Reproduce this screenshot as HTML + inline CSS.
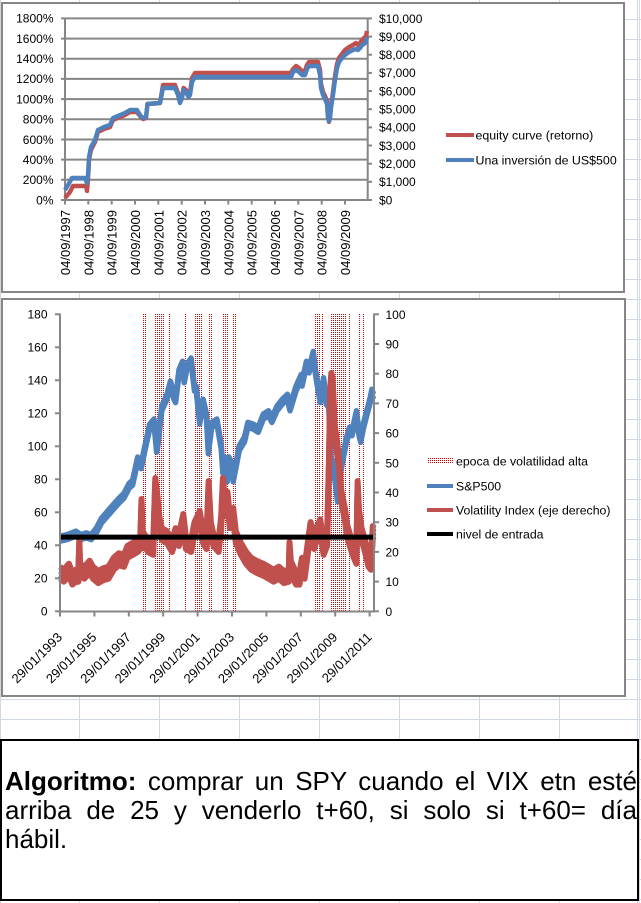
<!DOCTYPE html>
<html>
<head>
<meta charset="utf-8">
<style>
  html, body { margin:0; padding:0; background:#fff; }
  body { width:641px; height:903px; position:relative; overflow:hidden; font-family:"Liberation Sans", Arial, sans-serif; }
  svg { position:absolute; left:0; top:0; }
  .box { position:absolute; left:0; top:739px; width:639px; height:162px; box-sizing:border-box; border:2px solid #000; background:#fff; padding-top:26px; }
  .ln { margin-left:3px; width:632px; height:29px; line-height:29px; font-size:26px; color:#000; white-space:nowrap; font-family:"Liberation Sans", Arial, sans-serif; }
  .j { text-align:justify; text-align-last:justify; white-space:normal; }
</style>
</head>
<body>
<svg width="641" height="903" viewBox="0 0 641 903" xmlns="http://www.w3.org/2000/svg" font-family="Liberation Sans, Arial, sans-serif">
  <defs>
    <pattern id="grid" patternUnits="userSpaceOnUse" x="0" y="0" width="80" height="20">
      <path d="M79.5,0 V20 M0,19.5 H80" stroke="#d0d7e5" stroke-width="1" fill="none"/>
    </pattern>
    <pattern id="dots" patternUnits="userSpaceOnUse" x="0" y="0" width="2" height="2">
      <rect x="0" y="0" width="1" height="1" fill="#e00000"/>
    </pattern>
    <polyline id="spx" fill="none" stroke-linejoin="round"
      points="60,538.7 67.2,537.1 75.8,533.7 81,537.1 86.1,535.4 91.3,537.1 96.4,530.4 101.6,520.5 110.2,510.6 118.8,500.8 123.9,495.8 129.1,485.9 132.6,482.6 137.7,459.5 141.2,466.1 144.6,449.6 149.7,426.5 154,421.5 156.6,449.6 157.5,446.3 161.8,408.3 167,396.8 170.4,383.6 173.9,396.8 175.6,400.1 179,372.1 182.5,363.8 184.2,380.3 186.8,367.1 191.1,360.5 194.5,388.6 196.2,388.6 199.7,421.5 203.1,401.8 206.5,416.6 208.3,451.3 211.7,424.9 216.9,421.5 221.2,446.3 222.9,471.1 224.6,459.5 227.2,479.3 228.9,459.5 230.6,462.8 233.2,479.3 235.8,466.1 239.3,447.9 244.4,439.7 247.9,424.9 253,426.5 258.2,429.8 263.3,416.6 268.5,413.3 271.9,419.9 277.1,408.3 282.2,401.8 287.4,396.8 290,408.3 296,388.6 301.2,377 302.1,383.6 306.4,363.8 309,370.4 313.3,353.9 315,368.8 317.6,385.2 320.2,400.1 323.6,380.3 326.2,401.8 328.8,405.1 330.2,446.3 331.4,466.1 333.1,462.8 334,471.1 336.6,490.9 337.5,499.1 340,472.7 342.6,459.5 346.1,441.3 349.5,429.8 352.1,433.1 356.4,413.3 359,433.1 360.7,439.7 363.3,426.5 366.7,413.3 370.2,400.1 371.9,391.8 373.6,396.8"/>
    <polyline id="vix" fill="none" stroke-linejoin="round"
      points="60,572.7 63.8,575.7 68.9,569.7 72.4,578.6 75.8,575.7 78.4,575.7 79.3,545 80.1,569.7 84.4,572.7 89.6,566.7 93,572.7 98.2,577.1 103.3,574.2 108.5,572.7 113.7,563.8 118.8,559.3 124,560.8 127.4,551.9 132.6,548.9 137.7,546 140.3,543 141.5,505 142.5,537.1 148.1,546 153.2,548.9 155.3,484 157.5,503 159.2,522.2 161.8,534.1 167,537.1 172.1,546 175.6,534.1 179,540 183.3,520 185.9,543 191.1,546 194.5,528.1 199.7,517 203.1,537.1 206.5,543 208.6,487 210.8,528.1 213.4,540 218.6,546 221.2,522.2 222.9,484 225.5,510.3 227.5,498 229.8,522.2 233.2,514 235.8,537.1 240.9,548.9 246.1,557.8 251.3,563.8 256.4,566.7 263.3,569.7 268.5,572.7 273.6,575.7 278.8,572.7 283.9,577.1 288.8,575.7 289.5,548 290.8,566.7 296,578.6 299.4,578.6 302,563.8 304.6,572.7 308.9,540 310.6,528.1 314.1,543 317.6,531.1 320.2,525.2 323.6,548.9 327.1,540 329,465 330.2,395 331.3,379 332.5,383 333.5,404 334.5,430 336,440 338,455 339.5,470 341,495 343,505 345,515 347,530 350.4,542 353.8,551.9 356.4,557.8 357.6,487 359,516.3 361.6,534.1 365,546 368.5,560.8 371,563.8 372.8,532 373.6,534.1"/>
  </defs>
  <rect x="0" y="0" width="641" height="903" fill="url(#grid)"/>
  <line x1="0.5" y1="0" x2="0.5" y2="903" stroke="#d0d7e5"/>
  <line x1="637.5" y1="0" x2="637.5" y2="903" stroke="#d0d7e5"/>

  <!-- ================= TOP CHART ================= -->
  <rect x="2" y="3" width="622" height="289" fill="#fff" stroke="#868686" stroke-width="2"/>
  <g stroke="#868686" stroke-width="2">
    <line x1="61" y1="18.4" x2="367.7" y2="18.4"/>
    <line x1="61" y1="38.6" x2="367.7" y2="38.6"/>
    <line x1="61" y1="58.7" x2="367.7" y2="58.7"/>
    <line x1="61" y1="78.9" x2="367.7" y2="78.9"/>
    <line x1="61" y1="99.1" x2="367.7" y2="99.1"/>
    <line x1="61" y1="119.3" x2="367.7" y2="119.3"/>
    <line x1="61" y1="139.5" x2="367.7" y2="139.5"/>
    <line x1="61" y1="159.6" x2="367.7" y2="159.6"/>
    <line x1="61" y1="179.8" x2="367.7" y2="179.8"/>
    <line x1="61" y1="200" x2="367.7" y2="200"/>
    <line x1="65" y1="18" x2="65" y2="200"/>
    <line x1="367.7" y1="18" x2="367.7" y2="201"/>
  </g>
  <g stroke="#868686" stroke-width="2">
    <line x1="367.7" y1="200" x2="372" y2="200"/>
    <line x1="367.7" y1="181.8" x2="372" y2="181.8"/>
    <line x1="367.7" y1="163.7" x2="372" y2="163.7"/>
    <line x1="367.7" y1="145.5" x2="372" y2="145.5"/>
    <line x1="367.7" y1="127.4" x2="372" y2="127.4"/>
    <line x1="367.7" y1="109.2" x2="372" y2="109.2"/>
    <line x1="367.7" y1="91" x2="372" y2="91"/>
    <line x1="367.7" y1="72.9" x2="372" y2="72.9"/>
    <line x1="367.7" y1="54.7" x2="372" y2="54.7"/>
    <line x1="367.7" y1="36.6" x2="372" y2="36.6"/>
    <line x1="367.7" y1="18.4" x2="372" y2="18.4"/>
  </g>
  <g stroke="#868686" stroke-width="2">
    <line x1="65" y1="200" x2="65" y2="204.5"/>
    <line x1="88.3" y1="200" x2="88.3" y2="204.5"/>
    <line x1="111.7" y1="200" x2="111.7" y2="204.5"/>
    <line x1="135" y1="200" x2="135" y2="204.5"/>
    <line x1="158.3" y1="200" x2="158.3" y2="204.5"/>
    <line x1="181.7" y1="200" x2="181.7" y2="204.5"/>
    <line x1="205" y1="200" x2="205" y2="204.5"/>
    <line x1="228.3" y1="200" x2="228.3" y2="204.5"/>
    <line x1="251.7" y1="200" x2="251.7" y2="204.5"/>
    <line x1="275" y1="200" x2="275" y2="204.5"/>
    <line x1="298.3" y1="200" x2="298.3" y2="204.5"/>
    <line x1="321.7" y1="200" x2="321.7" y2="204.5"/>
    <line x1="345" y1="200" x2="345" y2="204.5"/>
  </g>
  <g font-size="12" fill="#000" text-anchor="end">
    <text x="53.5" y="22.7">1800%</text>
    <text x="53.5" y="42.9">1600%</text>
    <text x="53.5" y="63">1400%</text>
    <text x="53.5" y="83.2">1200%</text>
    <text x="53.5" y="103.4">1000%</text>
    <text x="53.5" y="123.6">800%</text>
    <text x="53.5" y="143.8">600%</text>
    <text x="53.5" y="163.9">400%</text>
    <text x="53.5" y="184.1">200%</text>
    <text x="53.5" y="204.3">0%</text>
  </g>
  <g font-size="12" fill="#000">
    <text x="379" y="23">$10,000</text>
    <text x="379" y="40.9">$9,000</text>
    <text x="379" y="59">$8,000</text>
    <text x="379" y="77.2">$7,000</text>
    <text x="379" y="95.3">$6,000</text>
    <text x="379" y="113.5">$5,000</text>
    <text x="379" y="131.7">$4,000</text>
    <text x="379" y="149.8">$3,000</text>
    <text x="379" y="168">$2,000</text>
    <text x="379" y="186.1">$1,000</text>
    <text x="379" y="204.3">$0</text>
  </g>
  <g font-size="13" fill="#000" text-anchor="end">
    <text transform="translate(70,210) rotate(-90)">04/09/1997</text>
    <text transform="translate(93.3,210) rotate(-90)">04/09/1998</text>
    <text transform="translate(116.7,210) rotate(-90)">04/09/1999</text>
    <text transform="translate(140,210) rotate(-90)">04/09/2000</text>
    <text transform="translate(163.3,210) rotate(-90)">04/09/2001</text>
    <text transform="translate(186.7,210) rotate(-90)">04/09/2002</text>
    <text transform="translate(210,210) rotate(-90)">04/09/2003</text>
    <text transform="translate(233.3,210) rotate(-90)">04/09/2004</text>
    <text transform="translate(256.7,210) rotate(-90)">04/09/2005</text>
    <text transform="translate(280,210) rotate(-90)">04/09/2006</text>
    <text transform="translate(303.3,210) rotate(-90)">04/09/2007</text>
    <text transform="translate(326.7,210) rotate(-90)">04/09/2008</text>
    <text transform="translate(350,210) rotate(-90)">04/09/2009</text>
  </g>
  <path fill="none" stroke="#c0504d" stroke-width="4.4" stroke-linejoin="round"
    d="M65,198 L70,192 L73,186 L86,186 L87,191 L88,180 L89,160 L91,150 L95,142 L98,132 L104,129 L110,127 L113,120 L125,115 L130,112 L137,112 L140,116 L143,119 L146,118 L147.5,104 L160,103 L163,85 L175,85 L178,93 L180,102 L182,97 L183.5,88 L186,90 L188.5,96 L190,93 L192,78 L195,73 L291,73 L293,69 L296,66 L299,68 L302,71 L305,71 L307,65 L309,62 L318,62 L320,70 L321,84 L323,92 L325,96 L327,101 L328,116 L329,122 L330,117 L331,106 L333,92 L335,76 L337,64 L339,58 L342,54 L345,50 L349,47 L353,45 L356,43 L358,45 L360,43 L362,40 L364,38 L366,36 L367,31"/>
  <path fill="none" stroke="#4f81bd" stroke-width="4.4" stroke-linejoin="round"
    d="M65,190 L68,185 L72,178 L85,178 L87,183 L88,175 L89,157 L91,147 L95,140 L98,130 L104,127 L110,125 L113,118 L125,113 L130,110 L137,110 L140,115 L143,118 L146,117 L147.5,104 L160,103 L163,88 L175,88 L178,95 L180,103 L182,98 L183.5,90 L186,92 L188.5,97 L190,95 L192,82 L195,77 L291,77 L293,72 L296,70 L299,72 L302,75 L305,75 L307,69 L309,66 L318,66 L320,75 L321,88 L323,95 L325,99 L327,104 L328,118 L329,121 L330,118 L331,108 L333,95 L335,80 L337,68 L339,62 L342,58 L345,55 L349,52 L353,50 L356,49 L358,50 L360,48 L362,45 L364,44 L366,42 L367,37"/>
  <line x1="446" y1="135" x2="474" y2="135" stroke="#c0504d" stroke-width="4"/>
  <line x1="446" y1="160" x2="474" y2="160" stroke="#4f81bd" stroke-width="4"/>
  <g font-size="12.4" fill="#000">
    <text x="475.5" y="139.5">equity curve (retorno)</text>
    <text x="475.5" y="164.5">Una inversión de US$500</text>
  </g>

  <!-- ================= BOTTOM CHART ================= -->
  <rect x="2" y="299" width="623" height="397" fill="#fff" stroke="#868686" stroke-width="2"/>
  <g stroke="#e00000" stroke-width="1" stroke-dasharray="1 1">
    <line x1="143.5" y1="314" x2="143.5" y2="611"/>
    <line x1="145.5" y1="314" x2="145.5" y2="611"/>
    <line x1="155.5" y1="314" x2="155.5" y2="611"/>
    <line x1="157.5" y1="314" x2="157.5" y2="611"/>
    <line x1="159.5" y1="314" x2="159.5" y2="611"/>
    <line x1="161.5" y1="314" x2="161.5" y2="611"/>
    <line x1="163.5" y1="314" x2="163.5" y2="611"/>
    <line x1="169.5" y1="314" x2="169.5" y2="611"/>
    <line x1="185.5" y1="314" x2="185.5" y2="611"/>
    <line x1="195.5" y1="314" x2="195.5" y2="611"/>
    <line x1="197.5" y1="314" x2="197.5" y2="611"/>
    <line x1="199.5" y1="314" x2="199.5" y2="611"/>
    <line x1="201.5" y1="314" x2="201.5" y2="611"/>
    <line x1="209.5" y1="314" x2="209.5" y2="611"/>
    <line x1="211.5" y1="314" x2="211.5" y2="611"/>
    <line x1="223.5" y1="314" x2="223.5" y2="611"/>
    <line x1="225.5" y1="314" x2="225.5" y2="611"/>
    <line x1="227.5" y1="314" x2="227.5" y2="611"/>
    <line x1="233.5" y1="314" x2="233.5" y2="611"/>
    <line x1="235.5" y1="314" x2="235.5" y2="611"/>
    <line x1="315.5" y1="314" x2="315.5" y2="611"/>
    <line x1="317.5" y1="314" x2="317.5" y2="611"/>
    <line x1="319.5" y1="314" x2="319.5" y2="611"/>
    <line x1="322.5" y1="314" x2="322.5" y2="611"/>
    <line x1="331.5" y1="314" x2="331.5" y2="611"/>
    <line x1="333.5" y1="314" x2="333.5" y2="611"/>
    <line x1="335.5" y1="314" x2="335.5" y2="611"/>
    <line x1="337.5" y1="314" x2="337.5" y2="611"/>
    <line x1="339.5" y1="314" x2="339.5" y2="611"/>
    <line x1="341.5" y1="314" x2="341.5" y2="611"/>
    <line x1="343.5" y1="314" x2="343.5" y2="611"/>
    <line x1="345.5" y1="314" x2="345.5" y2="611"/>
    <line x1="349.5" y1="314" x2="349.5" y2="611"/>
    <line x1="359.5" y1="314" x2="359.5" y2="611"/>
    <line x1="363.5" y1="314" x2="363.5" y2="611"/>
  </g>
  <g stroke="#4f81bd" stroke-width="5.5">
    <use href="#spx" transform="translate(0,-2.5)"/>
    <use href="#spx" transform="translate(0,2.5)"/>
  </g>
  <g stroke="#c0504d" stroke-width="6">
    <use href="#vix" transform="translate(0,-6)"/>
    <use href="#vix" transform="translate(0,-2)"/>
    <use href="#vix" transform="translate(0,2)"/>
    <use href="#vix" transform="translate(0,6)"/>
  </g>
  <line x1="60" y1="537.1" x2="374" y2="537.1" stroke="#000" stroke-width="5"/>
  <g stroke="#868686" stroke-width="2">
    <line x1="60" y1="313.5" x2="60" y2="612"/>
    <line x1="374" y1="313.5" x2="374" y2="612"/>
    <line x1="59" y1="611.5" x2="375" y2="611.5"/>
    <line x1="55" y1="611.3" x2="60" y2="611.3"/>
    <line x1="55" y1="578.3" x2="60" y2="578.3"/>
    <line x1="55" y1="545.3" x2="60" y2="545.3"/>
    <line x1="55" y1="512.3" x2="60" y2="512.3"/>
    <line x1="55" y1="479.3" x2="60" y2="479.3"/>
    <line x1="55" y1="446.3" x2="60" y2="446.3"/>
    <line x1="55" y1="413.3" x2="60" y2="413.3"/>
    <line x1="55" y1="380.3" x2="60" y2="380.3"/>
    <line x1="55" y1="347.3" x2="60" y2="347.3"/>
    <line x1="55" y1="314.3" x2="60" y2="314.3"/>
    <line x1="374" y1="611.3" x2="379" y2="611.3"/>
    <line x1="374" y1="581.6" x2="379" y2="581.6"/>
    <line x1="374" y1="551.9" x2="379" y2="551.9"/>
    <line x1="374" y1="522.2" x2="379" y2="522.2"/>
    <line x1="374" y1="492.5" x2="379" y2="492.5"/>
    <line x1="374" y1="462.8" x2="379" y2="462.8"/>
    <line x1="374" y1="433.1" x2="379" y2="433.1"/>
    <line x1="374" y1="403.4" x2="379" y2="403.4"/>
    <line x1="374" y1="373.7" x2="379" y2="373.7"/>
    <line x1="374" y1="344" x2="379" y2="344"/>
    <line x1="374" y1="314.3" x2="379" y2="314.3"/>
    <line x1="60" y1="611.5" x2="60" y2="616.5"/>
    <line x1="94.4" y1="611.5" x2="94.4" y2="616.5"/>
    <line x1="128.8" y1="611.5" x2="128.8" y2="616.5"/>
    <line x1="163.2" y1="611.5" x2="163.2" y2="616.5"/>
    <line x1="197.6" y1="611.5" x2="197.6" y2="616.5"/>
    <line x1="232" y1="611.5" x2="232" y2="616.5"/>
    <line x1="266.4" y1="611.5" x2="266.4" y2="616.5"/>
    <line x1="300.8" y1="611.5" x2="300.8" y2="616.5"/>
    <line x1="335.2" y1="611.5" x2="335.2" y2="616.5"/>
    <line x1="369.6" y1="611.5" x2="369.6" y2="616.5"/>
  </g>
  <g font-size="12" fill="#000" text-anchor="end">
    <text x="47.5" y="615.6">0</text>
    <text x="47.5" y="582.6">20</text>
    <text x="47.5" y="549.6">40</text>
    <text x="47.5" y="516.6">60</text>
    <text x="47.5" y="483.6">80</text>
    <text x="47.5" y="450.6">100</text>
    <text x="47.5" y="417.6">120</text>
    <text x="47.5" y="384.6">140</text>
    <text x="47.5" y="351.6">160</text>
    <text x="47.5" y="318.6">180</text>
  </g>
  <g font-size="12" fill="#000">
    <text x="385.5" y="615.8">0</text>
    <text x="385.5" y="586.1">10</text>
    <text x="385.5" y="556.4">20</text>
    <text x="385.5" y="526.7">30</text>
    <text x="385.5" y="497">40</text>
    <text x="385.5" y="467.3">50</text>
    <text x="385.5" y="437.6">60</text>
    <text x="385.5" y="407.9">70</text>
    <text x="385.5" y="378.2">80</text>
    <text x="385.5" y="348.5">90</text>
    <text x="385.5" y="318.8">100</text>
  </g>
  <g font-size="13" fill="#000" text-anchor="end">
    <text transform="translate(63,638) rotate(-45)">29/01/1993</text>
    <text transform="translate(97.4,638) rotate(-45)">29/01/1995</text>
    <text transform="translate(131.8,638) rotate(-45)">29/01/1997</text>
    <text transform="translate(166.2,638) rotate(-45)">29/01/1999</text>
    <text transform="translate(200.6,638) rotate(-45)">29/01/2001</text>
    <text transform="translate(235,638) rotate(-45)">29/01/2003</text>
    <text transform="translate(269.4,638) rotate(-45)">29/01/2005</text>
    <text transform="translate(303.8,638) rotate(-45)">29/01/2007</text>
    <text transform="translate(338.2,638) rotate(-45)">29/01/2009</text>
    <text transform="translate(372.6,638) rotate(-45)">29/01/2011</text>
  </g>
  <rect x="427" y="458" width="26" height="6" fill="url(#dots)"/>
  <line x1="427" y1="486" x2="453" y2="486" stroke="#4f81bd" stroke-width="4"/>
  <line x1="427" y1="510" x2="453" y2="510" stroke="#c0504d" stroke-width="4"/>
  <line x1="427" y1="534" x2="453" y2="534" stroke="#000" stroke-width="4"/>
  <g font-size="12.3" fill="#000">
    <text x="456" y="465.4">epoca de volatilidad alta</text>
    <text x="456" y="490.4">S&amp;P500</text>
    <text x="456" y="514.4">Volatility Index (eje derecho)</text>
    <text x="456" y="538.4">nivel de entrada</text>
  </g>
</svg>

<div class="box">
  <div class="ln j"><b>Algoritmo:</b> comprar un SPY cuando el VIX etn esté</div>
  <div class="ln j">arriba de 25 y venderlo t+60, si solo si t+60= día</div>
  <div class="ln">hábil.</div>
</div>
</body>
</html>
